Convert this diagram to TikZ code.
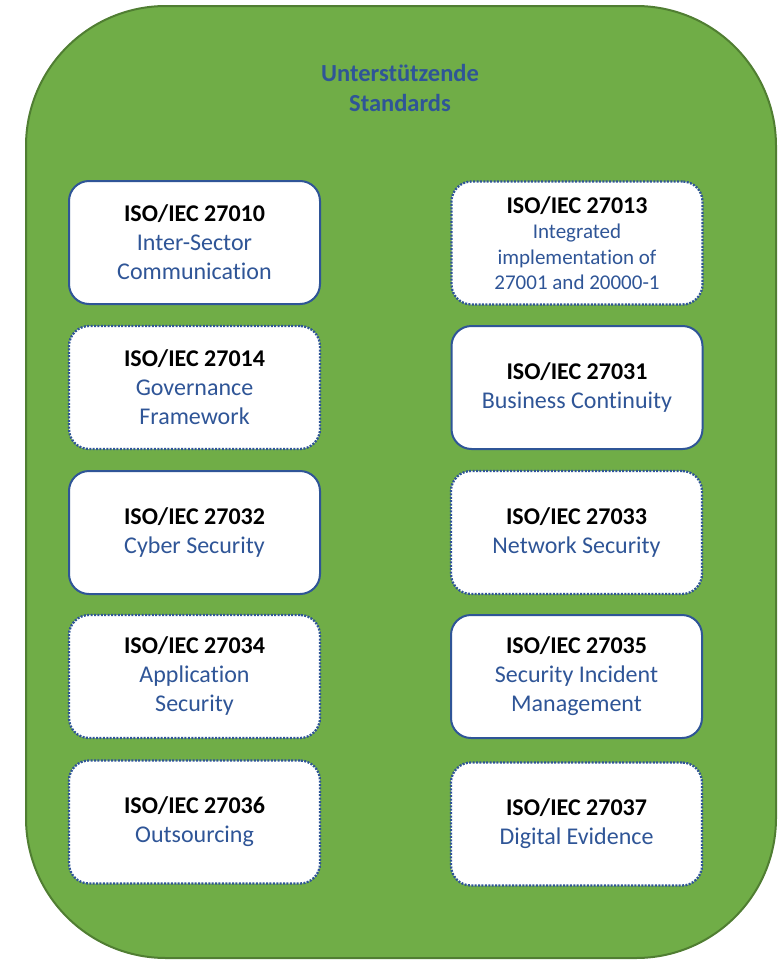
\documentclass[tikz,border=0pt]{standalone}
\usepackage{fontspec}
\setmainfont{Carlito}[Ligatures=NoCommon]
\definecolor{outerfill}{HTML}{70AD47}
\definecolor{outerline}{HTML}{507E32}
\definecolor{stdblue}{HTML}{2F5597}
\newcommand{\smallline}[1]{\textcolor{stdblue}{\fontsize{21}{25.5}\selectfont #1}}
\begin{document}
\begin{tikzpicture}[x=1pt,y=-1pt,
  stdbox/.style={draw=stdblue, line width=2pt, fill=white, rounded corners=20pt,
    minimum width=251pt, minimum height=123pt, align=center, inner sep=0pt,
    font=\fontsize{24}{29}\selectfont},
  plannedbox/.style={stdbox, line width=2.3pt, dash pattern=on 2pt off 1.4pt}]
\useasboundingbox (0,0) rectangle (784,961);
% outer rounded container
\draw[fill=outerfill, draw=outerline, line width=2pt, rounded corners=140pt]
  (26,6) rectangle (776,958);
\node[text=stdblue, align=center, font=\bfseries\fontsize{24.5}{30}\selectfont] (title) at (400,88)
  {Unterstützende\\Standards};
% left column
\node[stdbox] (s10) at (194.5,242.5)
  {\textbf{ISO/IEC 27010}\\\textcolor{stdblue}{Inter-Sector}\\\textcolor{stdblue}{Communication}};
\node[plannedbox] (s14) at (194.5,387.5)
  {\textbf{ISO/IEC 27014}\\\textcolor{stdblue}{Governance}\\\textcolor{stdblue}{Framework}};
\node[stdbox] (s32) at (194.5,532.5)
  {\textbf{ISO/IEC 27032}\\\textcolor{stdblue}{Cyber Security}};
\node[plannedbox] (s34) at (194.5,676.5)
  {\textbf{ISO/IEC 27034}\\\textcolor{stdblue}{Application}\\\textcolor{stdblue}{Security}};
\node[plannedbox] (s36) at (194.5,822)
  {\textbf{ISO/IEC 27036}\\\textcolor{stdblue}{Outsourcing}};
% right column
\node[plannedbox, font=\fontsize{24}{25.5}\selectfont] (s13) at (577,243)
  {\textbf{ISO/IEC 27013}\\\smallline{Integrated}\\\smallline{implementation of}\\\smallline{27001 and 20000-1}};
\node[stdbox] (s31) at (577,387.5)
  {\textbf{ISO/IEC 27031}\\\textcolor{stdblue}{Business Continuity}};
\node[plannedbox] (s33) at (576.5,532.5)
  {\textbf{ISO/IEC 27033}\\\textcolor{stdblue}{Network Security}};
\node[stdbox] (s35) at (576.5,676.5)
  {\textbf{ISO/IEC 27035}\\\textcolor{stdblue}{Security Incident}\\\textcolor{stdblue}{Management}};
\node[plannedbox] (s37) at (576.5,824)
  {\textbf{ISO/IEC 27037}\\\textcolor{stdblue}{Digital Evidence}};
\end{tikzpicture}
\end{document}
